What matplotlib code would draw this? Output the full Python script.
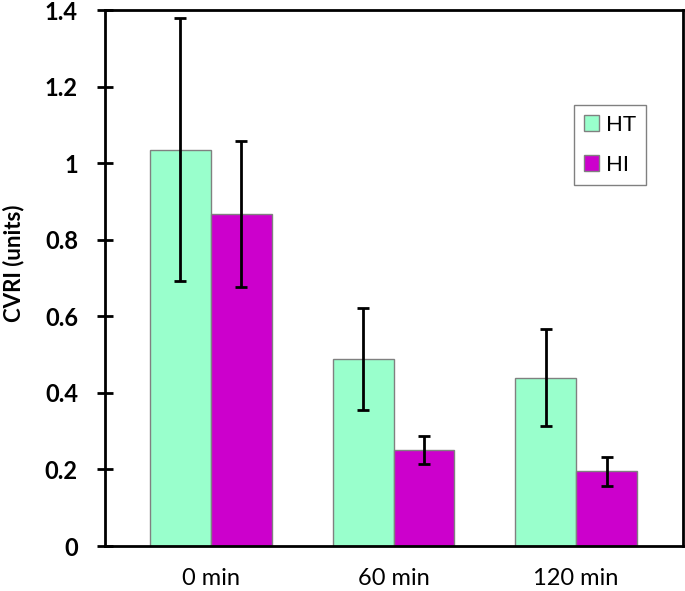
import numpy as np
import matplotlib
matplotlib.use("Agg")
import matplotlib.pyplot as plt

# data
groups = ["0 min", "60 min", "120 min"]
ht_mean = [1.035, 0.488, 0.440]
ht_err = [0.343, 0.133, 0.127]
hi_mean = [0.867, 0.251, 0.195]
hi_err = [0.190, 0.036, 0.037]
y_ticks = [0, 0.2, 0.4, 0.6, 0.8, 1.0, 1.2, 1.4]

plt.rcParams['font.family'] = ['Lato', 'DejaVu Sans']

fig = plt.figure(figsize=(6.85, 5.91), dpi=100)
ax = fig.add_axes([105 / 685, 1 - 546 / 591, 578 / 685, 536 / 591])

x = np.arange(len(groups))
w = 1 / 3.0
err_kw = dict(ecolor='black', elinewidth=2, capsize=4, capthick=2)
ax.bar(x - w / 2, ht_mean, w, yerr=ht_err, color='#99ffcc',
       edgecolor='#808080', linewidth=1, error_kw=err_kw, label='HT')
ax.bar(x + w / 2, hi_mean, w, yerr=hi_err, color='#cc00cc',
       edgecolor='#808080', linewidth=1, error_kw=err_kw, label='HI')

ax.set_xlim(-0.58, 2.585)
ax.set_ylim(0, 1.4)
ax.set_yticks(y_ticks)
ax.set_yticklabels(['%g' % v for v in y_ticks], fontweight='bold', fontsize=17)
ax.set_xticks(x)
ax.set_xticklabels(groups, fontsize=17)
ax.tick_params(axis='y', direction='inout', length=11, width=2, pad=14)
ax.tick_params(axis='x', length=0, pad=16)
for s in ax.spines.values():
    s.set_linewidth(2)
    s.set_color('black')

ax.set_ylabel('CVRI (units)', fontweight='bold', fontsize=16, va='center')
ax.yaxis.set_label_coords(-0.158, 0.528)

leg = ax.legend(loc='upper left', bbox_to_anchor=(0.811, 0.823), fontsize=16,
                fancybox=False, edgecolor='#808080', handlelength=0.7,
                handleheight=0.7, handletextpad=0.3, labelspacing=0.9,
                borderpad=0.45, borderaxespad=0, framealpha=1)
leg.get_frame().set_linewidth(1)

fig.savefig('out.png', dpi=100)
